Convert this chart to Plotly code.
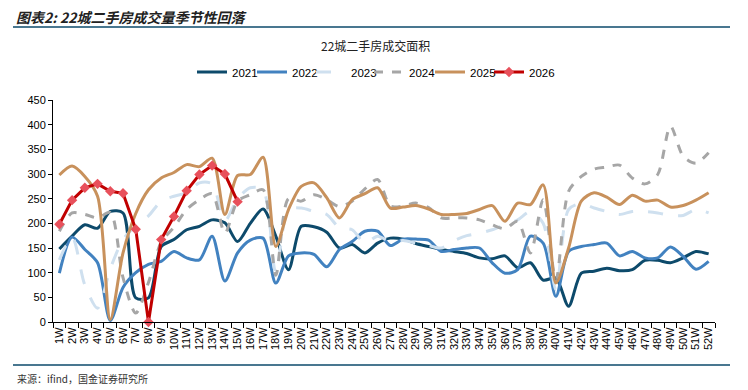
import plotly.graph_objects as go

weeks = ["1W","2W","3W","4W","5W","6W","7W","8W","9W","10W","11W","12W","13W",
         "14W","15W","16W","17W","18W","19W","20W","21W","22W","23W","24W","25W","26W",
         "27W","28W","29W","30W","31W","32W","33W","34W","35W","36W","37W","38W","39W",
         "40W","41W","42W","43W","44W","45W","46W","47W","48W","49W","50W","51W","52W"]

v2021 = [148,174,197,190,224,221,49,49,153,167,187,194,207,201,163,200,229,174,106,194,
         193,182,150,157,140,160,170,168,159,153,147,143,139,130,128,134,110,120,85,89,
         32,99,103,109,104,106,125,125,120,130,143,138]
v2022 = [99,172,147,120,3,70,100,117,123,143,130,126,174,83,140,166,170,79,134,140,
         137,112,147,163,184,184,155,168,168,166,143,147,150,150,120,99,106,174,160,52,
         143,153,157,160,134,143,130,130,152,133,107,123]
v2023 = [126,172,75,28,108,167,195,215,245,255,262,282,280,205,250,272,268,100,228,231,
         224,218,191,187,160,174,163,165,160,155,150,165,175,180,187,197,207,224,200,65,
         228,240,231,224,218,224,224,221,216,216,228,221]
v2024 = [184,221,218,211,222,90,18,80,162,192,228,248,260,180,245,258,268,95,250,245,
         258,248,234,245,270,289,235,235,241,232,211,211,211,207,197,189,204,140,248,85,
         265,295,310,314,318,292,280,299,397,336,322,343]
v2025 = [298,316,295,255,5,140,220,268,292,303,319,315,332,218,297,299,334,153,228,275,
         282,252,211,248,260,272,231,233,236,229,218,218,220,228,236,204,241,238,278,79,
         150,245,262,253,238,257,245,247,233,236,247,262]
v2026 = [198,247,272,280,265,261,188,0,167,214,266,299,317,300,244]

series_names = ["2021", "2022", "2023", "2024", "2025", "2026"]

# page has an 8px body margin: figure coords = page coords - 8
OFF = 8
W, H = 748 - OFF, 390 - OFF
PL, PR, PT, PB = 53, 715, 100, 322   # plot box in page pixels
L, R, T, B = PL - OFF, W - (PR - OFF), PT - OFF, H - (PB - OFF)
pw = PR - PL
ph = PB - PT
def px(x):
    return (x - PL) / pw
def py(y):
    return (PB - y) / ph

legend_keys = ["legend", "legend2", "legend3", "legend4", "legend5", "legend6"]
legend_line_starts = [197, 257, 316, 374, 435, 494]

fig = go.Figure()
styles = [
    (v2021, "#0d4a6b", "solid", 3),
    (v2022, "#4282c0", "solid", 3),
    (v2023, "#cfe0ef", "longdash", 3),
    (v2024, "#a6a6a6", "dash", 3),
    (v2025, "#c8915c", "solid", 3),
]
for i, (name, (vals, col, dash, w)) in enumerate(zip(series_names[:5], styles)):
    fig.add_trace(go.Scatter(
        x=weeks[:len(vals)], y=vals, name=name, mode="lines",
        line=dict(color=col, width=w, dash=dash, shape="spline", smoothing=0.8),
        legend=legend_keys[i],
    ))
fig.add_trace(go.Scatter(
    x=weeks[:len(v2026)], y=v2026, name=series_names[5], mode="lines+markers",
    line=dict(color="#c00000", width=3),
    marker=dict(symbol="diamond", size=8, color="#e8505b"),
    cliponaxis=False, legend=legend_keys[5],
))

legends = {}
for key, xs in zip(legend_keys, legend_line_starts):
    legends[key] = dict(orientation="h", x=px(xs - 5), xanchor="left", y=py(72),
                        yanchor="middle", font=dict(size=11.5), tracegroupgap=0,
                        bgcolor="rgba(0,0,0,0)")

fig.update_layout(
    width=W, height=H,
    margin=dict(l=L, r=R, t=T, b=B, autoexpand=False),
    paper_bgcolor="white", plot_bgcolor="white",
    font=dict(family="Liberation Sans, Arial, sans-serif", size=11, color="#000"),
    showlegend=True,
    xaxis=dict(type="category", categoryorder="array", categoryarray=weeks,
               range=[-0.5, 51.5], tickangle=-90, tickson="boundaries",
               tickmode="array", tickvals=weeks, ticktext=weeks,
               ticks="outside", ticklen=5, tickcolor="#000", showline=True,
               linecolor="#000", linewidth=1, showgrid=False,
               tickfont=dict(size=11)),
    yaxis=dict(range=[0, 450], dtick=50, ticks="outside", ticklen=4,
               tickcolor="#000", showline=True, linecolor="#000", linewidth=1,
               showgrid=False, zeroline=False, tickfont=dict(size=11)),
    shapes=[
        dict(type="line", xref="paper", yref="paper", x0=px(13), x1=px(730),
             y0=py(27), y1=py(27), line=dict(color="#0d4a6b", width=1.5)),
        dict(type="line", xref="paper", yref="paper", x0=px(13), x1=px(730),
             y0=py(365), y1=py(365), line=dict(color="#0d4a6b", width=1.5)),
    ],
    annotations=[
        dict(text="<b><i>图表2: 22城二手房成交量季节性回落</i></b>", xref="paper", yref="paper",
             x=px(15), y=py(17), xanchor="left", yanchor="middle", showarrow=False,
             borderpad=0, font=dict(family="Noto Sans CJK SC", size=14, color="#222")),
        dict(text="22城二手房成交面积", xref="paper", yref="paper",
             x=px(375), y=py(45), xanchor="center", yanchor="middle", showarrow=False,
             font=dict(family="Noto Sans CJK SC", size=12, color="#222")),
        dict(text="来源：ifind，国金证券研究所", xref="paper", yref="paper",
             x=px(15), y=py(378), xanchor="left", yanchor="middle", showarrow=False,
             font=dict(family="Noto Sans CJK SC", size=10, color="#333")),
    ],
    **legends,
)

fig.write_html("out.html")
